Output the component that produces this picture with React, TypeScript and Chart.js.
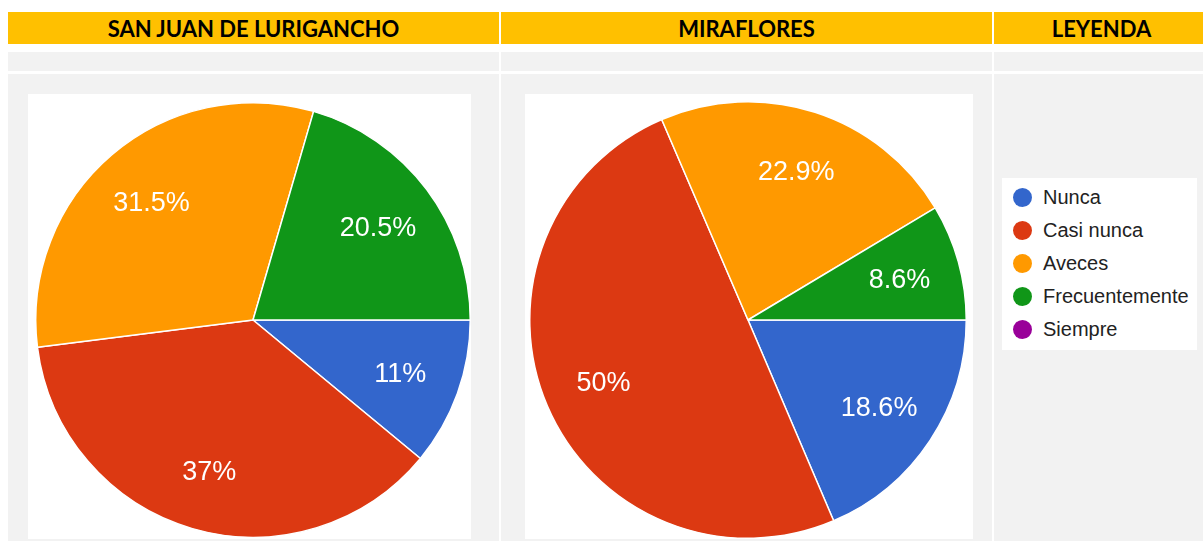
import React, { useEffect, useRef } from "react";
import { Chart, registerables } from "chart.js";

Chart.register(...registerables);

const categories = ["Nunca", "Casi nunca", "Aveces", "Frecuentemente", "Siempre"];
const sanJuanValues = [11, 37, 31.5, 20.5, 0];
const mirafloresValues = [18.6, 50, 22.9, 8.6, 0];
const sanJuanLabels = ["11%", "37%", "31.5%", "20.5%", ""];
const mirafloresLabels = ["18.6%", "50%", "22.9%", "8.6%", ""];
const colors = ["#3366cc", "#dc3912", "#ff9900", "#109618", "#990099"];
const headers = ["SAN JUAN DE LURIGANCHO", "MIRAFLORES", "LEYENDA"];

const sliceLabelPlugin = {
  id: "sliceLabels",
  afterDatasetsDraw(chart: any) {
    const labels: string[] = chart.options.plugins.sliceLabels.labels;
    const meta = chart.getDatasetMeta(0);
    const ctx = chart.ctx;
    ctx.save();
    ctx.fillStyle = "#ffffff";
    ctx.font = "27px 'Liberation Sans', Arial, sans-serif";
    ctx.textAlign = "center";
    ctx.textBaseline = "middle";
    meta.data.forEach((arc: any, i: number) => {
      const p = arc.getProps(["x", "y", "startAngle", "endAngle", "outerRadius"], true);
      if (!labels[i] || p.endAngle - p.startAngle <= 0) return;
      const mid = (p.startAngle + p.endAngle) / 2;
      const r = p.outerRadius * 0.72;
      ctx.fillText(labels[i], p.x + Math.cos(mid) * r, p.y + Math.sin(mid) * r + 2);
    });
    ctx.restore();
  },
};

function Pie({ values, labels, padding }: { values: number[]; labels: string[]; padding: any }) {
  const ref = useRef<HTMLCanvasElement | null>(null);
  useEffect(() => {
    if (!ref.current) return;
    const chart = new Chart(ref.current, {
      type: "pie",
      data: {
        labels: categories,
        datasets: [
          {
            data: values,
            backgroundColor: colors,
            borderColor: "#ffffff",
            borderWidth: 1.5,
          },
        ],
      },
      options: {
        animation: false,
        responsive: false,
        rotation: 90,
        layout: { padding },
        plugins: {
          legend: { display: false },
          tooltip: { enabled: false },
          sliceLabels: { labels },
        } as any,
      },
      plugins: [sliceLabelPlugin],
    });
    return () => chart.destroy();
  }, []);
  return <canvas ref={ref} width={448} height={445} style={{ display: "block" }} />;
}

const headerStyle: React.CSSProperties = {
  position: "absolute",
  top: 12,
  height: 32,
  background: "#ffc000",
  display: "flex",
  alignItems: "center",
  justifyContent: "center",
  fontFamily: "Lato, 'Open Sans', sans-serif",
  fontWeight: 700,
  fontSize: 22,
  color: "#000",
};

export default function App() {
  const cols = [
    { left: 8, width: 491 },
    { left: 501, width: 491 },
    { left: 994, width: 215 },
  ];
  return (
    <div
      style={{
        position: "absolute",
        left: 0,
        top: 0,
        width: 1203,
        height: 541,
        background: "#ffffff",
        overflow: "hidden",
      }}
    >
      {cols.map((c, i) => (
        <React.Fragment key={i}>
          <div style={{ ...headerStyle, left: c.left, width: c.width }}>{headers[i]}</div>
          <div style={{ position: "absolute", left: c.left, width: c.width, top: 52, height: 19, background: "#f2f2f2" }} />
          <div style={{ position: "absolute", left: c.left, width: c.width, top: 74, height: 467, background: "#f2f2f2" }} />
        </React.Fragment>
      ))}
      <div style={{ position: "absolute", left: 28, top: 94, width: 443, height: 445, background: "#fff" }}>
        <Pie values={sanJuanValues} labels={sanJuanLabels} padding={{ left: 7, right: 5, top: 8, bottom: 1 }} />
      </div>
      <div style={{ position: "absolute", left: 525, top: 94, width: 448, height: 445, background: "#fff" }}>
        <Pie values={mirafloresValues} labels={mirafloresLabels} padding={{ left: 4, right: 6, top: 7, bottom: 0 }} />
      </div>
      <div
        style={{
          position: "absolute",
          left: 1002,
          top: 178,
          width: 195,
          height: 172,
          background: "#fff",
          fontFamily: "'Liberation Sans', Arial, sans-serif",
          fontSize: 20,
          color: "#222",
        }}
      >
        {categories.map((c, i) => (
          <div key={c} style={{ position: "absolute", left: 11, top: 8 + i * 33, height: 22, display: "flex", alignItems: "center" }}>
            <span style={{ display: "inline-block", width: 19, height: 19, borderRadius: "50%", background: colors[i], marginRight: 11 }} />
            <span>{c}</span>
          </div>
        ))}
      </div>
    </div>
  );
}
